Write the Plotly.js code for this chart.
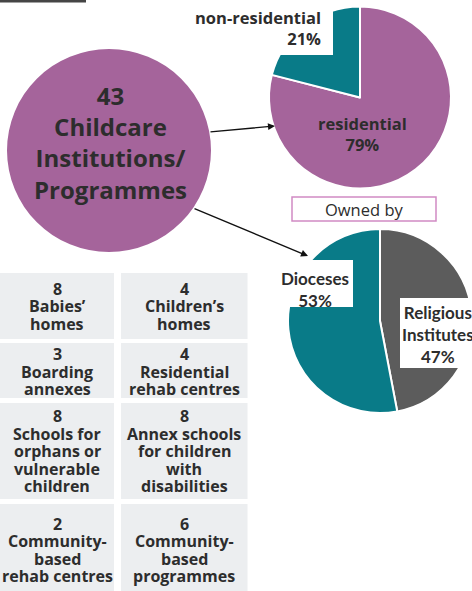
<!DOCTYPE html>
<html>
<head>
<meta charset="utf-8">
<script src="https://cdn.plot.ly/plotly-3.0.1.min.js"></script>
<style>
  html, body { margin: 0; padding: 0; background: #ffffff; }
  #chart { width: 472px; height: 591px; }
</style>
</head>
<body>
<div id="chart"></div>
<script>
// ---------- DATA ----------
const totalCount = 43;
const totalLabel = ["Childcare", "Institutions/", "Programmes"];

const typeLabels = ["residential", "non-residential"];
const typeValues = [79, 21];

const ownerTitle = "Owned by";
const ownerLabels = ["Religious Institutes", "Dioceses"];
const ownerLabelLines = [["Religious", "Institutes"], ["Dioceses"]];
const ownerValues = [47, 53];

const cellCounts = [8, 4, 3, 4, 8, 8, 2, 6];
const cellNames = [
  ["Babies’", "homes"],
  ["Children’s", "homes"],
  ["Boarding", "annexes"],
  ["Residential", "rehab centres"],
  ["Schools for", "orphans or", "vulnerable", "children"],
  ["Annex schools", "for children", "with", "disabilities"],
  ["Community-", "based", "rehab centres"],
  ["Community-", "based", "programmes"]
];

// ---------- STYLE / LAYOUT ----------
const W = 472, H = 591;
const PURPLE = "#a5649b";
const TEAL = "#097b88";
const GREY = "#5c5c5c";
const CELL = "#eceef0";
const INK = "#2d2d2d";
const FONT = "Open Sans, DejaVu Sans, sans-serif";
const FONT2 = "Lato, Open Sans, sans-serif";

function pieDomain(cx, cy, r) {
  return {
    x: [Math.max(0, (cx - r) / W), Math.min(1, (cx + r) / W)],
    y: [Math.max(0, 1 - (cy + r) / H), Math.min(1, 1 - (cy - r) / H)]
  };
}

const traces = [
  { type: "scatter", x: [], y: [], hoverinfo: "skip", showlegend: false },
  {
    type: "pie",
    labels: typeLabels, values: typeValues,
    sort: false, direction: "clockwise", rotation: 0,
    marker: { colors: [PURPLE, TEAL], line: { color: "#ffffff", width: 2 } },
    textinfo: "none", hoverinfo: "none", showlegend: false,
    domain: pieDomain(360, 97.5, 91)
  },
  {
    type: "pie",
    labels: ownerLabels, values: ownerValues,
    sort: false, direction: "clockwise", rotation: 0,
    marker: { colors: [GREY, TEAL], line: { color: "#ffffff", width: 2 } },
    textinfo: "none", hoverinfo: "none", showlegend: false,
    domain: pieDomain(380, 321, 92)
  }
];

const shapes = [];
const annotations = [];

// dark bar top-left
shapes.push({ type: "rect", xref: "x", yref: "y", x0: 0, x1: 86, y0: 0, y1: 2.5,
  fillcolor: "#454545", line: { width: 0 }, layer: "below" });

// big circle
shapes.push({ type: "circle", xref: "x", yref: "y", x0: 7, x1: 211, y0: 49, y1: 252,
  fillcolor: PURPLE, line: { width: 0 }, layer: "below" });
annotations.push({
  xref: "x", yref: "y", x: 110, y: 142, showarrow: false,
  text: [String(totalCount)].concat(totalLabel).join("<br>"),
  font: { family: FONT, size: 24, color: INK, weight: 700 },
  xanchor: "center", yanchor: "middle", align: "center"
});

// label boxes covering pies
shapes.push({ type: "rect", xref: "x", yref: "y", x0: 188, x1: 333, y0: 0, y1: 55,
  fillcolor: "#ffffff", line: { width: 0 }, layer: "above" });
shapes.push({ type: "rect", xref: "x", yref: "y", x0: 278, x1: 353, y0: 260, y1: 307,
  fillcolor: "#ffffff", line: { width: 0 }, layer: "above" });
shapes.push({ type: "rect", xref: "x", yref: "y", x0: 400, x1: 480, y0: 298, y1: 368,
  fillcolor: "#ffffff", line: { width: 0 }, layer: "above" });

// Owned by box
shapes.push({ type: "rect", xref: "x", yref: "y", x0: 292, x1: 436, y0: 197, y1: 221,
  fillcolor: "#ffffff", line: { width: 1.5, color: "#d18ac4" }, layer: "above" });
annotations.push({
  xref: "x", yref: "y", x: 364, y: 209.5, showarrow: false, text: ownerTitle,
  font: { family: FONT, size: 16.5, color: INK, weight: 400 },
  xanchor: "center", yanchor: "middle"
});

const lblFont = { family: FONT, size: 16.5, color: INK, weight: 700 };
const lblFont2 = { family: FONT2, size: 17, color: INK, weight: 700 };
// pie 1 labels
annotations.push({ xref: "x", yref: "y", x: 323, y: 28, showarrow: false,
  text: typeLabels[1] + "<br>" + typeValues[1] + "%", font: lblFont,
  xanchor: "right", yanchor: "middle", align: "right" });
annotations.push({ xref: "x", yref: "y", x: 362, y: 134, showarrow: false,
  text: typeLabels[0] + "<br>" + typeValues[0] + "%", font: lblFont,
  xanchor: "center", yanchor: "middle", align: "center" });
// pie 2 labels
annotations.push({ xref: "x", yref: "y", x: 315, y: 289.5, showarrow: false,
  text: ownerLabelLines[1].concat([ownerValues[1] + "%"]).join("<br>"), font: lblFont2,
  xanchor: "center", yanchor: "middle", align: "center" });
annotations.push({ xref: "x", yref: "y", x: 438, y: 334, showarrow: false,
  text: ownerLabelLines[0].concat([ownerValues[0] + "%"]).join("<br>"), font: lblFont2,
  xanchor: "center", yanchor: "middle", align: "center" });

// arrows
const arrowStyle = { showarrow: true, arrowhead: 2, arrowsize: 1, arrowwidth: 1.4,
  arrowcolor: "#111111", text: "", axref: "x", ayref: "y", xref: "x", yref: "y", standoff: 0 };
annotations.push(Object.assign({}, arrowStyle, { x: 275, y: 126, ax: 209, ay: 132 }));
annotations.push(Object.assign({}, arrowStyle, { x: 308, y: 256, ax: 193, ay: 208 }));

// cells
const colX = [[-2, 114], [121, 247.5]];
const rowY = [[273, 339], [343, 398], [403, 499], [504, 593]];
const rowShift = [0, 1, 0, 1.5];
const lineGap = 17.5;
cellCounts.forEach(function (cnt, i) {
  const r = Math.floor(i / 2), c = i % 2;
  const x0 = colX[c][0], x1 = colX[c][1], y0 = rowY[r][0], y1 = rowY[r][1];
  shapes.push({ type: "rect", xref: "x", yref: "y", x0: x0, x1: x1, y0: y0, y1: y1,
    fillcolor: CELL, line: { width: 0 }, layer: "below" });
  const lines = [String(cnt)].concat(cellNames[i]);
  const cy = (y0 + y1) / 2 + rowShift[r];
  lines.forEach(function (t, k) {
    annotations.push({ xref: "x", yref: "y", x: c === 0 ? 57 : 184,
      y: cy + (k - (lines.length - 1) / 2) * lineGap,
      showarrow: false, text: t,
      font: { family: FONT, size: 16, color: INK, weight: 700 },
      xanchor: "center", yanchor: "middle" });
  });
});

const layout = {
  width: W, height: H,
  margin: { l: 0, r: 0, t: 0, b: 0, pad: 0 },
  paper_bgcolor: "#ffffff", plot_bgcolor: "#ffffff",
  showlegend: false,
  xaxis: { range: [0, W], visible: false, fixedrange: true, domain: [0, 1] },
  yaxis: { range: [H, 0], visible: false, fixedrange: true, domain: [0, 1] },
  shapes: shapes,
  annotations: annotations
};

Plotly.newPlot("chart", traces, layout, { displayModeBar: false, staticPlot: true });
</script>
</body>
</html>
